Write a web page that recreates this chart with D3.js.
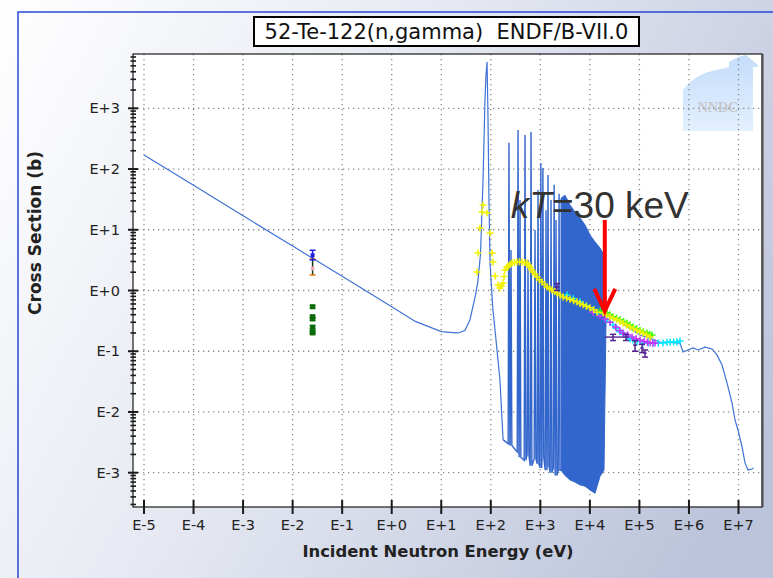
<!DOCTYPE html>
<html><head><meta charset="utf-8">
<script src="https://cdn.jsdelivr.net/npm/d3@7"></script>
<style>html,body{margin:0;padding:0;overflow:hidden;background:#fff}</style>
</head><body><svg id="c" width="773" height="578"></svg>
<script>
// ---------------- data ----------------
const chartTitle = "52-Te-122(n,gamma)  ENDF/B-VII.0";
const xTitle = "Incident Neutron Energy (eV)";
const yTitle = "Cross Section (b)";
const xTickValues = [1e-5,1e-4,1e-3,1e-2,1e-1,1e0,1e1,1e2,1e3,1e4,1e5,1e6,1e7];
const xTickLabels = ["E-5","E-4","E-3","E-2","E-1","E+0","E+1","E+2","E+3","E+4","E+5","E+6","E+7"];
const yTickValues = [1e-3,1e-2,1e-1,1e0,1e1,1e2,1e3];
const yTickLabels = ["E-3","E-2","E-1","E+0","E+1","E+2","E+3"];

// ENDF curve, smooth low-energy part (eV, b)
const endfLow = [[1e-5,170],[1e-4,54],[1e-3,17],[0.01,5.4],[0.0253,3.4],[0.1,1.71],[1,0.54],[3,0.31],
  [10,0.21],[15,0.205],[22,0.2],[30,0.22],[38,0.33],[50,0.9],[55,1.43],[62,4],[69.7,66],[76.4,1370],
  [80,3500],[83.9,5780],[86,2000],[87.9,641],[92,30],[96.4,2.84],[110,0.5],[122,0.22],[153,0.034],[177,0.0035]];
// isolated resonances
const resE    = [233, 256, 355, 389, 491, 564, 649, 781, 898, 1025, 1127, 1303, 1429, 1643, 1900, 2074, 2390];
const resPeak = [270, 4.65, 440, 31, 362, 3.18, 408, 9.9, 45, 126, 104, 21, 80, 31, 55, 14.5, 39];
const resLow  = [0.003,0.0028,0.0022,0.0018,0.0016,0.002,0.0013,0.0017,0.0014,0.0012,0.0018,0.0011,0.0013,0.001,0.0012,0.0009,0.0011];
// unresolved dense resonance band
const denseE      = [2618,3148,3974,5012,6324,7980,10060,12700,16030,19280,21180];
const denseTop    = [33,37,25.6,19.6,15.7,12.0,8.2,6.3,5.0,3.85,0.70];
const denseBottom = [0.0011,0.0009,0.00076,0.0007,0.00063,0.0006,0.00052,0.00046,0.00087,0.0011,0.33];
// smooth high-energy part
const endfHigh = [[21180,0.44],[40560,0.30],[102800,0.185],[260600,0.142],[659200,0.136],[758600,0.097],
  [1.208e6,0.113],[1.524e6,0.105],[2.109e6,0.117],[2.924e6,0.109],[3.683e6,0.087],[4.645e6,0.0594],
  [5.861e6,0.0301],[7.393e6,0.0141],[8.505e6,0.00738],[9.77e6,0.00505],[1.178e7,0.00265],
  [1.355e7,0.00145],[1.556e7,0.00111],[1.875e7,0.00115],[2.0e7,0.00119]];

// EXFOR data
const yellowData = [[69.7,25.6],[66.5,19.6],[83.9,18.9],[60.5,10.7],[96.4,8.85],[55.2,4.15],[106,4.15],
  [52.7,2.02],[111,2.95],[122,1.73],[140,1.23],[153,1.10],[165,1.2],[177,1.33],[185,1.7],[194,2.18],[210,2.4],[223,2.53],
  [245,2.7],[268,2.84],[300,2.9],[338,2.95],[380,2.97],[427,2.95],[480,2.9],[538,2.84],[580,2.6],[619,2.44],[665,2.2],
  [711,2.02],[780,1.85],[857,1.67],[960,1.5],[1081,1.38],[1220,1.25],[1365,1.14],[1540,1.08],[1722,1.02],[1950,0.96],
  [2173,0.91],[2500,0.84],[2871,0.78],[3400,0.75],[3974,0.72],[4700,0.68],[5499,0.65],[6300,0.61],[7271,0.58],[8500,0.55],
  [10060,0.52],[12000,0.48],[13930,0.44],[18410,0.43],[21500,0.40],
  [25510,0.37],[30000,0.35],[35310,0.33],[40500,0.31],[46660,0.29],[55000,0.27],[64570,0.25],[76000,0.235],[89500,0.22],
  [103000,0.21],[118300,0.20],[140000,0.185],[163700,0.171]];
const greenData = [[16030,0.46],[19000,0.45],[22180,0.43],[25500,0.40],[29330,0.37],[34500,0.35],[40560,0.33],[48000,0.31],
  [56230,0.29],[64000,0.27],[74300,0.25],[88000,0.235],[102800,0.22],[120000,0.21],[142200,0.20],[160000,0.19],[179600,0.185]];
const cyanData = [[3459,0.84],[4600,0.74],[6324,0.65],[8500,0.56],[11560,0.48],[15500,0.42],[22180,0.33],[25500,0.30],
  [29330,0.27],[34500,0.24],[40560,0.21],[48000,0.19],[56230,0.171],[64000,0.16],
  [74300,0.153],[90000,0.145],[118300,0.136],[150000,0.136],[188300,0.136],[240000,0.136],[299400,0.136],[360000,0.14],
  [414900,0.142],[490000,0.142],[574200,0.142],[659200,0.147]];
const magentaData = [[11560,0.44],[16030,0.38],[20500,0.34],[25510,0.30],[33000,0.25],[40000,0.22],[46660,0.20],
  [58000,0.185],[71000,0.171],[86000,0.16],[102800,0.153],[125000,0.145],[145000,0.14],[163700,0.136],[185000,0.136],[206500,0.136]];
const purpleE   = [2173, 29330, 53600, 81500, 113000, 129800];
const purpleY   = [1.14, 0.171, 0.171, 0.126, 0.113, 0.093];
const purpleElo = [1950, 20000, 47000, 74000, 104000, 120000];
const purpleEhi = [2450, 48000, 61000, 90000, 123000, 140000];
const purpleYlo = [1.0, 0.15, 0.15, 0.10, 0.095, 0.08];
const purpleYhi = [1.3, 0.19, 0.19, 0.15, 0.13, 0.105];
// thermal point measurements
const thermalE = 0.0253;
const thBlue   = [3.8, 3.2, 4.6];   // value, low, high
const thOrange = [2.3, 1.8, 3.3];
const thGreen  = [0.54, 0.37, 0.34, 0.25, 0.21, 0.20];

const annotText = ["k","T","=30 keV"];
const arrowE = 2.0e4, arrowTop = 14.5, arrowTip = 0.46;

// ---------------- drawing ----------------
const svg = d3.select("#c");
const defs = svg.append("defs");
const bg = defs.append("linearGradient").attr("id","bg").attr("gradientUnits","userSpaceOnUse")
  .attr("x1",0).attr("y1",0).attr("x2",773).attr("y2",420);
bg.append("stop").attr("offset",0).attr("stop-color","#ffffff");
bg.append("stop").attr("offset",0.45).attr("stop-color","#e6e9f2");
bg.append("stop").attr("offset",1).attr("stop-color","#bcc4db");
const wm = defs.append("linearGradient").attr("id","wm").attr("x1",0).attr("y1",0).attr("x2",0).attr("y2",1);
wm.append("stop").attr("offset",0).attr("stop-color","#c4ddfa");
wm.append("stop").attr("offset",1).attr("stop-color","#e3f0ff");

svg.append("rect").attr("width",773).attr("height",578).attr("fill","url(#bg)");
svg.append("path").attr("d","M18,578V12H773").attr("fill","none").attr("stroke","#2848d8").attr("stroke-width",1.5);

const px0=133, px1=762, py0=54, py1=507;
const x = d3.scaleLog().domain([1e-5,1e7]).range([144,738.5]);
const y = d3.scaleLog().domain([1e-3,1e3]).range([472.7,108.3]);

defs.append("clipPath").attr("id","clip").append("rect")
  .attr("x",px0).attr("y",py0).attr("width",px1-px0).attr("height",py1-py0);

svg.append("rect").attr("x",px0).attr("y",py0).attr("width",px1-px0).attr("height",py1-py0).attr("fill","#fff");

// watermark
const gw = svg.append("g");
gw.append("path").attr("d","M683,131V90C690,80 700,74 712,71C720,69 726,68 729,67V62L738,57L746,55L758,65V67H753V131Z")
  .attr("fill","url(#wm)");
gw.append("text").attr("x",718).attr("y",112).attr("text-anchor","middle").attr("font-family","Liberation Serif")
  .attr("font-weight","bold").attr("font-size",14).attr("fill","#c8c8cc").text("NNDC");

// grid
const grid = svg.append("g").attr("stroke","#8a8a8a").attr("stroke-width",1.3).attr("stroke-dasharray","1.3,3.7");
grid.selectAll("line.gx").data(xTickValues).join("line")
  .attr("x1",d=>x(d)).attr("x2",d=>x(d)).attr("y1",py0).attr("y2",py1);
grid.selectAll("line.gy").data(yTickValues).join("line")
  .attr("x1",px0).attr("x2",px1).attr("y1",d=>y(d)).attr("y2",d=>y(d));

const plot = svg.append("g").attr("clip-path","url(#clip)");
const line = d3.line().x(d=>x(d[0])).y(d=>y(d[1]));
const blue = "#3366cc";
const lineBlue = "#3f73d6";

// dense band
const denseRows = denseE.map((e,i)=>({e, t:denseTop[i], b:denseBottom[i]}));
plot.append("path").datum(denseRows)
  .attr("d", d3.area().x(d=>x(d.e)).y0(d=>y(d.b)).y1(d=>y(d.t)))
  .attr("fill",blue).attr("stroke",blue).attr("stroke-width",1);

// resonance path
const resPts = [];
resE.forEach((e,i)=>{
  resPts.push([e/1.04, resLow[i]]);
  resPts.push([e, resPeak[i]]);
  resPts.push([e*1.04, resLow[i]]);
});
plot.append("path").datum(endfLow).attr("d",line).attr("fill","none").attr("stroke",lineBlue).attr("stroke-width",1.2);
plot.append("path").datum([endfLow[endfLow.length-1]].concat(resPts, [[denseE[0], denseBottom[0]]]))
  .attr("d",line).attr("fill","none").attr("stroke",blue).attr("stroke-width",1.4);
plot.append("path").datum(endfHigh).attr("d",line).attr("fill","none").attr("stroke",lineBlue).attr("stroke-width",1.2);

// thermal data
function vbar(g, e, lo, hi, color, cap){
  g.append("line").attr("x1",x(e)).attr("x2",x(e)).attr("y1",y(lo)).attr("y2",y(hi)).attr("stroke",color).attr("stroke-width",1.5);
  [lo,hi].forEach(v=>g.append("line").attr("x1",x(e)-3).attr("x2",x(e)+3).attr("y1",y(v)).attr("y2",y(v))
    .attr("stroke",cap||color).attr("stroke-width",1.5));
}
const gd = plot.append("g");
vbar(gd, thermalE, thOrange[1], thOrange[2], "#123d12", "#e8730c");
gd.append("circle").attr("cx",x(thermalE)).attr("cy",y(thOrange[0])).attr("r",2).attr("fill","#f7a8b8");
vbar(gd, thermalE, thBlue[1], thBlue[2], "#1f1fe0");
gd.append("rect").attr("x",x(thermalE)-2).attr("y",y(thBlue[0])-2).attr("width",4).attr("height",4).attr("fill","#1f1fe0");
thGreen.forEach(v=>{
  vbar(gd, thermalE, v*0.95, v*1.05, "#0b6b0b");
  gd.append("rect").attr("x",x(thermalE)-2.5).attr("y",y(v)-2.5).attr("width",5).attr("height",5).attr("fill","#0b6b0b");
});

function crosses(data, color){
  plot.append("g").selectAll("path").data(data).join("path")
    .attr("d",d=>`M${x(d[0])-3.5},${y(d[1])}h7M${x(d[0])},${y(d[1])-3.5}v7`)
    .attr("stroke",color).attr("stroke-width",1.5).attr("fill","none");
}
crosses(cyanData, "#00e8ff");
crosses(magentaData, "#c433ff");
crosses(greenData, "#33ff00");
crosses(yellowData, "#f2f200");

const gp = plot.append("g");
purpleE.forEach((e,i)=>{
  gp.append("line").attr("x1",x(purpleElo[i])).attr("x2",x(purpleEhi[i])).attr("y1",y(purpleY[i])).attr("y2",y(purpleY[i]))
    .attr("stroke","#55228f").attr("stroke-width",1.4);
  vbar(gp, e, purpleYlo[i], purpleYhi[i], "#55228f");
});

// frame
svg.append("rect").attr("x",px0).attr("y",py0).attr("width",px1-px0).attr("height",py1-py0)
  .attr("fill","none").attr("stroke","#1a1a1a").attr("stroke-width",1.2);
svg.append("line").attr("x1",px1+0.5).attr("x2",px1+0.5).attr("y1",py0).attr("y2",py1)
  .attr("stroke","#555").attr("stroke-width",2.2);

// y axis ticks
const yAxis = svg.append("g");
const minorY = [];
for (let dec=-4; dec<=3; dec++) for (let m=2; m<=9; m++){ const v=m*Math.pow(10,dec); if (y(v)>py0 && y(v)<py1) minorY.push(v); }
yAxis.selectAll("line.mn").data(minorY).join("line").attr("x1",px0-2.5).attr("x2",px0+3)
  .attr("y1",d=>y(d)).attr("y2",d=>y(d)).attr("stroke","#1a1a1a").attr("stroke-width",1.6);
yAxis.selectAll("line.mj").data(yTickValues).join("line").attr("x1",px0-5).attr("x2",px0+5)
  .attr("y1",d=>y(d)).attr("y2",d=>y(d)).attr("stroke","#1a1a1a").attr("stroke-width",2);
yAxis.selectAll("text").data(yTickValues).join("text").attr("x",120).attr("y",d=>y(d)+5)
  .attr("text-anchor","end").attr("font-family","DejaVu Sans").attr("font-size",14.5).attr("fill","#222")
  .text((d,i)=>yTickLabels[i]);

// x axis ticks
const xAxis = svg.append("g");
xAxis.selectAll("line").data(xTickValues).join("line").attr("x1",d=>x(d)).attr("x2",d=>x(d))
  .attr("y1",py1-7).attr("y2",py1+7).attr("stroke","#1a1a1a").attr("stroke-width",2);
xAxis.selectAll("text").data(xTickValues).join("text").attr("x",d=>x(d)).attr("y",530)
  .attr("text-anchor","middle").attr("font-family","DejaVu Sans").attr("font-size",14.5).attr("fill","#222")
  .text((d,i)=>xTickLabels[i]);

// axis titles
svg.append("text").attr("x",438).attr("y",557).attr("text-anchor","middle").attr("font-family","DejaVu Sans")
  .attr("font-weight","bold").attr("font-size",16.4).attr("fill","#222").text(xTitle);
svg.append("text").attr("transform","translate(41,233) rotate(-90)").attr("text-anchor","middle")
  .attr("font-family","DejaVu Sans").attr("font-weight","bold").attr("font-size",17).attr("fill","#222").text(yTitle);

// title box
svg.append("rect").attr("x",254).attr("y",17).attr("width",385).attr("height",29).attr("fill","#fff")
  .attr("stroke","#000").attr("stroke-width",2);
svg.append("text").attr("x",446.5).attr("y",39).attr("text-anchor","middle").attr("font-family","DejaVu Sans")
  .style("white-space","pre").attr("font-size",21).attr("fill","#111").text(chartTitle);

// annotation
const ax = x(arrowE);
const at = svg.append("text").attr("x",ax+84).attr("y",218).attr("text-anchor","end")
  .attr("font-family","Liberation Sans").attr("font-size",37).attr("fill","#333");
at.append("tspan").attr("font-style","italic").text(annotText[0]);
at.append("tspan").attr("font-style","italic").text(annotText[1]);
at.append("tspan").text(annotText[2]);
svg.append("line").attr("x1",ax).attr("x2",ax).attr("y1",y(arrowTop)).attr("y2",y(arrowTip)-3)
  .attr("stroke","#ff0000").attr("stroke-width",4);
svg.append("path").attr("d",`M${ax-10.5},${y(arrowTip)-22}L${ax},${y(arrowTip)}L${ax+10.5},${y(arrowTip)-22}`)
  .attr("fill","none").attr("stroke","#ff0000").attr("stroke-width",4).attr("stroke-linejoin","miter");
</script></body></html>
